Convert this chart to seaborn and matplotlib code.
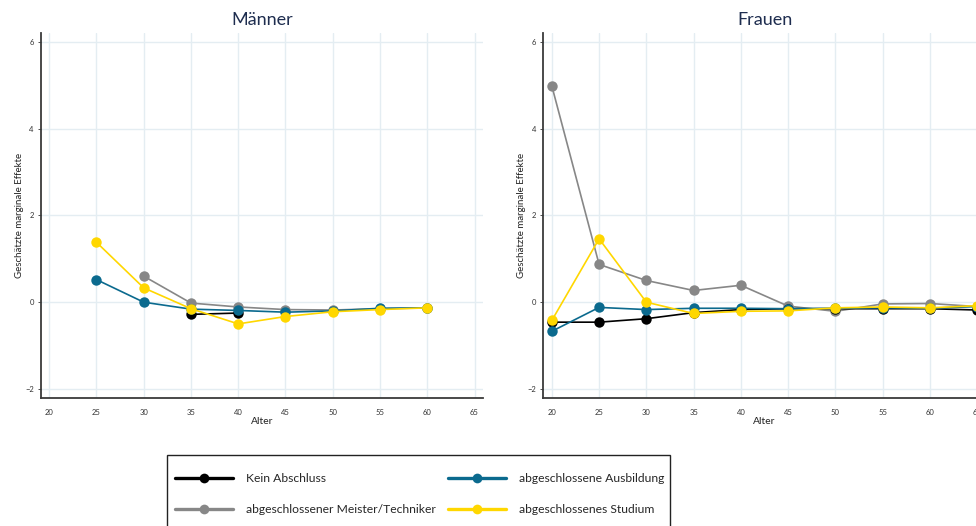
import numpy as np
import pandas as pd
import matplotlib
matplotlib.use("Agg")
import matplotlib.pyplot as plt
from matplotlib.lines import Line2D
from matplotlib.patches import Rectangle
import seaborn as sns

# ---- data ----
categories = ["Kein Abschluss", "abgeschlossener Meister/Techniker",
              "abgeschlossene Ausbildung", "abgeschlossenes Studium"]
ages_m = [25, 30, 35, 40, 45, 50, 55, 60]
kein_m = [np.nan, np.nan, -0.28, -0.25, np.nan, np.nan, np.nan, np.nan]
meister_m = [np.nan, 0.60, -0.02, -0.11, -0.17, -0.18, -0.15, -0.13]
ausb_m = [0.52, 0.00, -0.16, -0.19, -0.23, -0.20, -0.14, -0.13]
studium_m = [1.38, 0.33, -0.15, -0.50, -0.33, -0.22, -0.17, -0.13]

ages_f = [20, 25, 30, 35, 40, 45, 50, 55, 60, 65]
kein_f = [-0.46, -0.46, -0.38, -0.24, -0.17, -0.15, -0.15, -0.15, -0.15, -0.18]
meister_f = [4.98, 0.87, 0.50, 0.27, 0.39, -0.09, -0.21, -0.04, -0.03, -0.10]
ausb_f = [-0.67, -0.12, -0.17, -0.14, -0.14, -0.15, -0.14, -0.13, -0.14, -0.10]
studium_f = [-0.42, 1.46, 0.00, -0.26, -0.21, -0.20, -0.13, -0.11, -0.13, -0.08]

x_ticks = [20, 25, 30, 35, 40, 45, 50, 55, 60, 65]
y_ticks = [-2, 0, 2, 4, 6]

colors = {
    "Kein Abschluss": "#000000",
    "abgeschlossener Meister/Techniker": "#878787",
    "abgeschlossene Ausbildung": "#0b6a8e",
    "abgeschlossenes Studium": "#ffd700",
}
draw_order = ["abgeschlossener Meister/Techniker", "Kein Abschluss",
              "abgeschlossene Ausbildung", "abgeschlossenes Studium"]


def long_df(ages, series):
    rows = []
    for cat, vals in zip(categories, series):
        for a, v in zip(ages, vals):
            if not np.isnan(v):
                rows.append({"Alter": a, "Wert": v, "Gruppe": cat})
    return pd.DataFrame(rows)


df_m = long_df(ages_m, [kein_m, meister_m, ausb_m, studium_m])
df_f = long_df(ages_f, [kein_f, meister_f, ausb_f, studium_f])

sns.set_style("white")
plt.rcParams["font.family"] = ["Lato", "DejaVu Sans"]

fig = plt.figure(figsize=(9.76, 5.26), dpi=100)
ax1 = fig.add_axes([0.0417, 0.2439, 0.4532, 0.6933])
ax2 = fig.add_axes([0.5567, 0.2439, 0.4532, 0.6933])

for ax, df, title in [(ax1, df_m, "Männer"), (ax2, df_f, "Frauen")]:
    sns.lineplot(data=df, x="Alter", y="Wert", hue="Gruppe", hue_order=draw_order,
                 palette=colors, marker="o", markersize=7.5, markeredgewidth=0,
                 linewidth=1.2, legend=False, ax=ax, zorder=3)
    ax.set_xlim(19.1, 65.9)
    ax.set_ylim(-2.2, 6.2)
    ax.set_xticks(x_ticks)
    ax.set_yticks(y_ticks)
    ax.grid(True, color="#e4edf2", linewidth=1.0, zorder=0)
    for s in ["top", "right"]:
        ax.spines[s].set_visible(False)
    for s in ["left", "bottom"]:
        ax.spines[s].set_color("#3a3a3a")
        ax.spines[s].set_linewidth(1.3)
    ax.tick_params(axis="both", labelsize=5.5, colors="#333333", length=2, width=0.6,
                   pad=3, left=True, bottom=False)
    ax.tick_params(axis="x", pad=6)
    ax.set_xlabel("Alter", fontsize=7.5, color="#222222", labelpad=1)
    ax.set_ylabel("Geschätzte marginale Effekte", fontsize=7, color="#222222", labelpad=1)
    ax.set_title(title, fontsize=13, color="#1e2d4f", pad=6)

# legend box (extends past the bottom edge like the reference)
fig.patches.append(Rectangle((167 / 976, -0.1), (670 - 167) / 976, 1 - 455 / 526 + 0.1,
                             transform=fig.transFigure, fill=False,
                             edgecolor="#222222", linewidth=1.0, zorder=1))

handle_order = ["Kein Abschluss", "abgeschlossener Meister/Techniker",
                "abgeschlossene Ausbildung", "abgeschlossenes Studium"]
handles = [Line2D([0], [0], color=colors[c], linewidth=2.4, marker="o",
                  markersize=7, markeredgewidth=0) for c in handle_order]
leg = fig.legend(handles, handle_order, loc="upper left",
                 bbox_to_anchor=(175 / 976, 1 - 473 / 526), ncol=2,
                 fontsize=8.7, frameon=False,
                 handlelength=4.8, handletextpad=1.08, columnspacing=1.0,
                 borderpad=0, labelspacing=1.65, borderaxespad=0)

fig.savefig("out.png", dpi=100)
